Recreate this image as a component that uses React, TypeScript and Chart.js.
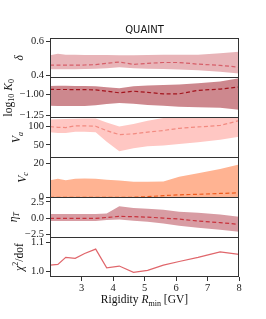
import React, { useEffect, useRef } from 'react';
import { Chart, registerables } from 'chart.js';

Chart.register(...registerables);

// ---------- data ----------
const rigidity = [2.0, 2.25, 2.5, 2.8, 3.1, 3.45, 3.8, 4.2, 4.65, 5.1, 5.6, 6.1, 6.7, 7.4, 8.0];

const deltaMean = [0.459, 0.459, 0.459, 0.459, 0.46, 0.462, 0.47, 0.478, 0.464, 0.47, 0.475, 0.475, 0.465, 0.458, 0.447];
const deltaHigh = [0.518, 0.528, 0.522, 0.521, 0.52, 0.52, 0.52, 0.519, 0.519, 0.52, 0.521, 0.521, 0.522, 0.53, 0.539];
const deltaLow = [0.435, 0.434, 0.434, 0.435, 0.436, 0.438, 0.441, 0.447, 0.44, 0.438, 0.436, 0.433, 0.428, 0.42, 0.409];

const k0Mean = [-0.939, -0.94, -0.94, -0.941, -0.942, -0.945, -0.96, -0.98, -0.96, -0.975, -0.992, -0.992, -0.95, -0.935, -0.91];
const k0High = [-0.898, -0.895, -0.896, -0.897, -0.898, -0.9, -0.912, -0.926, -0.9, -0.893, -0.886, -0.88, -0.865, -0.845, -0.804];
const k0Low = [-1.135, -1.137, -1.138, -1.139, -1.138, -1.13, -1.115, -1.102, -1.11, -1.125, -1.135, -1.148, -1.152, -1.16, -1.184];

const vaMean = [99, 97, 96.5, 101, 101, 100, 88, 77.5, 79.5, 84, 88.5, 94.5, 98, 102, 115];
const vaHigh = [118, 119, 119.5, 120, 120.5, 121, 110, 99, 106, 115, 122, 123, 123, 123, 123];
const vaLow = [84, 82, 82, 85.5, 85.5, 84, 58, 33, 41, 46, 48, 52.5, 57, 64, 72];

const vcMean = [0, 0, 0, 0, 0, 0, 0, 0, 0.05, 0.4, 1.0, 1.5, 1.8, 2.3, 2.7];
const vcHigh = [10.2, 11, 10.2, 11, 11.2, 11, 10.5, 10, 9.3, 9.2, 9.4, 12.2, 14.3, 16.9, 19.6];

const etaMean = [-0.05, -0.05, -0.05, -0.05, -0.05, -0.05, 0.1, 0.26, 0.22, 0.15, 0.0, -0.15, -0.46, -0.7, -0.98];
const etaHigh = [0.62, 0.62, 0.62, 0.62, 0.62, 0.65, 0.7, 1.85, 1.55, 1.45, 1.3, 1.0, 0.82, 0.55, 0.21];
const etaLow = [-0.46, -0.46, -0.46, -0.46, -0.46, -0.45, -0.31, -0.21, -0.4, -0.57, -0.85, -1.18, -1.49, -1.8, -2.11];

const chi2 = [1.0227, 1.025, 1.049, 1.0455, 1.0625, 1.0773, 1.0136, 1.0193, 0.9977, 1.0045, 1.0227, 1.035, 1.049, 1.068, 1.059];

const panelKeys = ['yDelta', 'yK0', 'yVa', 'yVc', 'yEta', 'yChi'];
const yMins = [0.383, -1.278, 16, 0, -2.96, 0.982];
const yMaxs = [0.622, -0.8, 123, 23.7, 3.22, 1.118];
const yTickValues = [[0.4, 0.6], [-1.25, -1.0], [50, 100], [0, 20], [-2.5, 0, 2.5], [1.0, 1.1]];
const yTickLabels = [['0.4', '0.6'], ['−1.25', '−1.00'], ['50', '100'], ['0', '20'], ['−2.5', '0.0', '2.5'], ['1.0', '1.1']];
const xTickValues = [3, 4, 5, 6, 7, 8];
const xTickLabels = ['3', '4', '5', '6', '7', '8'];

type Part = { t: string; i?: boolean; sub?: boolean; sup?: boolean };
const yLabelParts: Part[][] = [
  [{ t: 'δ', i: true }],
  [{ t: 'log' }, { t: '10', sub: true }, { t: ' ' }, { t: 'K', i: true }, { t: '0', sub: true }],
  [{ t: 'V', i: true }, { t: 'a', i: true, sub: true }],
  [{ t: 'V', i: true }, { t: 'c', i: true, sub: true }],
  [{ t: 'η', i: true }, { t: 'T', i: true, sub: true }],
  [{ t: 'χ', i: true }, { t: '2', sup: true }, { t: '/dof' }],
];
const xLabelParts: Part[] = [{ t: 'Rigidity ' }, { t: 'R', i: true }, { t: 'min', sub: true }, { t: ' [GV]' }];
const titleText = 'QUAINT';

// ---------- styles ----------
const bandColors = ['#e8b4b8', '#cd888e', '#ffc7c3', '#ffb392', '#d89ca3'];
const meanColors = ['#d65e68', '#a3141d', '#f28a80', '#ee5a1c', '#c8323c'];
const chiColor = '#e0666b';
const SERIF = '"Liberation Serif", "DejaVu Serif", serif';
const TICK_FONT_SIZE = 10.5;
const LABEL_FONT_SIZE = 11.5;

const pts = (ys: number[]) => ys.map((y, k) => ({ x: rigidity[k], y }));

function partFont(p: Part, size: number) {
  const s = p.sub || p.sup ? size * 0.7 : size;
  return `${p.i ? 'italic ' : ''}${s}px ${SERIF}`;
}

function drawParts(ctx: CanvasRenderingContext2D, parts: Part[], size: number) {
  let total = 0;
  const widths = parts.map((p) => {
    ctx.font = partFont(p, size);
    const w = ctx.measureText(p.t).width;
    total += w;
    return w;
  });
  let x = -total / 2;
  ctx.textAlign = 'left';
  ctx.textBaseline = 'alphabetic';
  parts.forEach((p, k) => {
    ctx.font = partFont(p, size);
    const dy = p.sub ? size * 0.22 : p.sup ? -size * 0.4 : 0;
    ctx.fillText(p.t, x, dy);
    x += widths[k];
  });
}

const decorPlugin = {
  id: 'decor',
  afterDraw(chart: any) {
    const ctx: CanvasRenderingContext2D = chart.ctx;
    const ca = chart.chartArea;
    ctx.save();
    // frames
    ctx.strokeStyle = '#333';
    ctx.lineWidth = 1;
    ctx.beginPath();
    const ys: number[] = panelKeys.map((k) => chart.scales[k].top);
    ys.push(chart.scales[panelKeys[panelKeys.length - 1]].bottom);
    ys.forEach((y) => {
      const yy = Math.floor(y) + 0.5;
      ctx.moveTo(ca.left, yy);
      ctx.lineTo(ca.right, yy);
    });
    const xl = Math.floor(ca.left) + 0.5;
    const xr = Math.floor(ca.right) - 0.5;
    ctx.moveTo(xl, ca.top);
    ctx.lineTo(xl, ca.bottom);
    ctx.moveTo(xr, ca.top);
    ctx.lineTo(xr, ca.bottom);
    ctx.stroke();

    // y labels
    ctx.fillStyle = '#111';
    panelKeys.forEach((key, i) => {
      const s = chart.scales[key];
      ctx.font = `${TICK_FONT_SIZE}px ${SERIF}`;
      let maxW = 0;
      yTickLabels[i].forEach((l) => {
        maxW = Math.max(maxW, ctx.measureText(l).width);
      });
      const tickLeft = ca.left - 4 - 2 - maxW;
      const xBase = tickLeft - 8;
      const yc = (s.top + s.bottom) / 2;
      ctx.save();
      ctx.translate(xBase, yc);
      ctx.rotate(-Math.PI / 2);
      drawParts(ctx, yLabelParts[i], LABEL_FONT_SIZE);
      ctx.restore();
    });

    // x label
    ctx.save();
    ctx.translate((ca.left + ca.right) / 2, 303);
    drawParts(ctx, xLabelParts, LABEL_FONT_SIZE);
    ctx.restore();
    ctx.restore();
  },
};

function buildConfig(): any {
  const datasets: any[] = [];
  const bandSets = [
    { key: 'yDelta', mean: deltaMean, lo: deltaLow, hi: deltaHigh },
    { key: 'yK0', mean: k0Mean, lo: k0Low, hi: k0High },
    { key: 'yVa', mean: vaMean, lo: vaLow, hi: vaHigh },
    { key: 'yVc', mean: vcMean, lo: null, hi: vcHigh },
    { key: 'yEta', mean: etaMean, lo: etaLow, hi: etaHigh },
  ];
  bandSets.forEach((b, i) => {
    datasets.push({
      label: b.key + ' mean',
      data: pts(b.mean),
      yAxisID: b.key,
      xAxisID: 'x',
      borderColor: meanColors[i],
      borderWidth: 1.2,
      borderDash: [4, 2.5],
      pointRadius: 0,
      fill: false,
      order: 0,
    });
    if (b.lo) {
      datasets.push({
        label: b.key + ' upper',
        data: pts(b.hi),
        yAxisID: b.key,
        xAxisID: 'x',
        borderColor: 'rgba(0,0,0,0)',
        backgroundColor: bandColors[i],
        borderWidth: 0,
        pointRadius: 0,
        fill: '+1',
        order: 1,
      });
      datasets.push({
        label: b.key + ' lower',
        data: pts(b.lo),
        yAxisID: b.key,
        xAxisID: 'x',
        borderColor: 'rgba(0,0,0,0)',
        borderWidth: 0,
        pointRadius: 0,
        fill: false,
        order: 1,
      });
    } else {
      datasets.push({
        label: b.key + ' upper',
        data: pts(b.hi),
        yAxisID: b.key,
        xAxisID: 'x',
        borderColor: 'rgba(0,0,0,0)',
        backgroundColor: bandColors[i],
        borderWidth: 0,
        pointRadius: 0,
        fill: { value: 0 },
        order: 1,
      });
    }
  });
  datasets.push({
    label: 'chi2',
    data: pts(chi2),
    yAxisID: 'yChi',
    xAxisID: 'x',
    borderColor: chiColor,
    borderWidth: 1.2,
    pointRadius: 0,
    fill: false,
    order: 0,
  });

  const tickFont = { family: SERIF, size: TICK_FONT_SIZE };
  const scales: any = {
    x: {
      type: 'linear',
      position: 'bottom',
      min: 2,
      max: 8,
      afterBuildTicks: (s: any) => {
        s.ticks = xTickValues.map((v) => ({ value: v }));
      },
      afterFit: (s: any) => {
        s.height = 42;
      },
      ticks: {
        font: tickFont,
        color: '#222',
        padding: 1,
        maxRotation: 0,
        autoSkip: false,
        callback: (v: number) => xTickLabels[xTickValues.findIndex((t) => Math.abs(t - v) < 1e-9)] ?? '',
      },
      grid: { drawOnChartArea: false, drawTicks: true, tickLength: 4, color: '#333' },
      border: { display: false },
    },
  };
  panelKeys.forEach((key, i) => {
    scales[key] = {
      type: 'linear',
      position: 'left',
      stack: 'panels',
      stackWeight: 1,
      weight: 10 - i,
      offset: false,
      min: yMins[i],
      max: yMaxs[i],
      afterBuildTicks: (s: any) => {
        s.ticks = yTickValues[i].map((v) => ({ value: v }));
      },
      afterFit: (s: any) => {
        s.width = 50;
      },
      ticks: {
        font: tickFont,
        color: '#222',
        padding: 2,
        autoSkip: false,
        callback: (v: number) => yTickLabels[i][yTickValues[i].findIndex((t) => Math.abs(t - v) < 1e-9)] ?? '',
      },
      grid: { drawOnChartArea: false, drawTicks: true, tickLength: 4, color: '#333' },
      border: { display: false },
    };
  });

  return {
    type: 'line',
    data: { datasets },
    options: {
      animation: false,
      responsive: false,
      devicePixelRatio: 1,
      parsing: true,
      elements: { line: { tension: 0 } },
      layout: { padding: { left: 0, right: 27, top: 0, bottom: 0 } },
      plugins: {
        legend: { display: false },
        tooltip: { enabled: false },
        title: {
          display: true,
          text: titleText,
          fullSize: false,
          color: '#111',
          font: { family: '"DejaVu Sans", sans-serif', size: 10, weight: 'normal' },
          padding: { top: 24, bottom: 2 },
        },
      },
      scales,
    },
    plugins: [decorPlugin],
  };
}

export default function App() {
  const ref = useRef<HTMLCanvasElement>(null);
  useEffect(() => {
    if (!ref.current) return;
    const chart = new Chart(ref.current, buildConfig());
    return () => chart.destroy();
  }, []);
  return (
    <div style={{ position: 'fixed', left: 0, top: 0, width: 266, height: 319, background: '#fff' }}>
      <canvas ref={ref} width={266} height={319} style={{ display: 'block', width: 266, height: 319 }} />
    </div>
  );
}
